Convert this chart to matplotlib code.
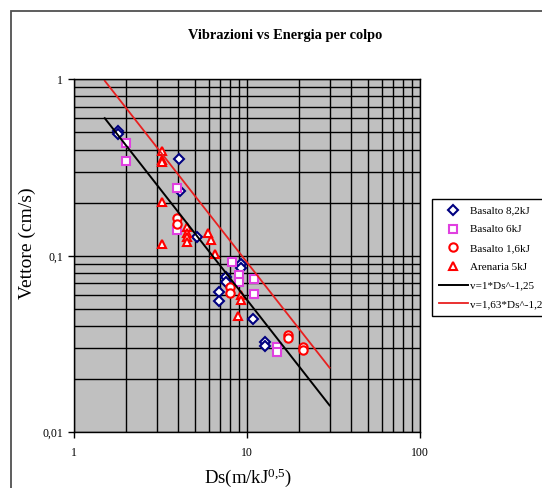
import matplotlib
matplotlib.use("Agg")
import matplotlib.pyplot as plt
from matplotlib.patches import Rectangle

plt.rcParams['font.family'] = ['Liberation Serif', 'DejaVu Serif']
plt.rcParams['mathtext.fontset'] = 'custom'
plt.rcParams['mathtext.rm'] = 'Liberation Serif'
plt.rcParams['mathtext.it'] = 'Liberation Serif:italic'

# ---- data ----
title = "Vibrazioni vs Energia per colpo"
xlabel = r"Ds(m/kJ$^{\mathrm{0{,}5}}$)"
ylabel = "Vettore (cm/s)"

basalto82_x = [1.80, 1.78, 4.05, 4.10, 5.10, 9.17, 9.17, 7.54, 7.54, 6.87, 6.87, 10.8, 12.7, 12.7]
basalto82_y = [0.51, 0.49, 0.352, 0.232, 0.127, 0.0895, 0.085, 0.0762, 0.0714, 0.0626, 0.0554, 0.0438, 0.0326, 0.031]

basalto6_x = [1.98, 1.98, 3.94, 3.94, 8.13, 8.97, 8.97, 10.9, 10.9, 14.9, 14.9]
basalto6_y = [0.434, 0.344, 0.241, 0.140, 0.0926, 0.0778, 0.0713, 0.0736, 0.0605, 0.0303, 0.0284]

basalto16_x = [3.94, 3.94, 7.95, 7.95, 17.3, 17.3, 21.1, 21.1]
basalto16_y = [0.163, 0.151, 0.0668, 0.0613, 0.0356, 0.0341, 0.0305, 0.0293]

arenaria_x = [3.20, 3.20, 3.20, 3.20, 3.20, 4.50, 4.50, 4.50, 4.50, 5.96, 6.15, 6.51, 9.17, 9.17, 8.89]
arenaria_y = [0.394, 0.349, 0.341, 0.203, 0.116, 0.145, 0.135, 0.128, 0.119, 0.134, 0.123, 0.102, 0.060, 0.0562, 0.0456]

line_x = [1.5, 30]
black_line_y = [0.602, 0.0142]
red_line_y = [0.981, 0.0232]

labels = ["Basalto 8,2kJ", "Basalto 6kJ", "Basalto 1,6kJ", "Arenaria 5kJ",
          "v=1*Ds^-1,25", "v=1,63*Ds^-1,25"]

xticks = [1, 10, 100]
xticklabels = ["1", "10", "100"]
yticks = [0.01, 0.1, 1]
yticklabels = ["0,01", "0,1", "1"]

# ---- figure ----
W, H = 542, 488
fig = plt.figure(figsize=(W / 100, H / 100), dpi=100)
fig.patch.set_facecolor('white')

# outer chart border
fig.patches.append(Rectangle((11 / W, -0.05), 1.2, 1 - 10.5 / H + 0.05,
                             transform=fig.transFigure, fill=False,
                             edgecolor='#505050', linewidth=1.3))

left, right = 74.3 / W, 420 / W
bottom, top = 1 - 432.3 / H, 1 - 79.3 / H
ax = fig.add_axes([left, bottom, right - left, top - bottom])
ax.set_facecolor('#C0C0C0')
ax.set_xscale('log')
ax.set_yscale('log')
ax.set_xlim(1, 100)
ax.set_ylim(0.01, 1)

ax.grid(True, which='both', color='black', linewidth=1.0)
ax.set_axisbelow(True)

ms_kw = dict(linestyle='none', markerfacecolor='white', markeredgewidth=1.5)
h1, = ax.plot(basalto82_x, basalto82_y, marker='D', markersize=4.8,
              markeredgecolor='#000080', label=labels[0], **ms_kw)
h2, = ax.plot(basalto6_x, basalto6_y, marker='s', markersize=6,
              markeredgecolor='#E040E0', label=labels[1], **ms_kw)
h3, = ax.plot(basalto16_x, basalto16_y, marker='o', markersize=6,
              markeredgecolor='#FF0000', label=labels[2], **ms_kw)
h4, = ax.plot(arenaria_x, arenaria_y, marker='^', markersize=6,
              markeredgecolor='#FF0000', label=labels[3], **ms_kw)
h5, = ax.plot(line_x, black_line_y, color='black', linewidth=1.4, label=labels[4])
h6, = ax.plot(line_x, red_line_y, color='#E82020', linewidth=1.3, label=labels[5])

ax.set_xticks(xticks)
ax.set_xticklabels(xticklabels)
ax.set_yticks(yticks)
ax.set_yticklabels(yticklabels)
ax.tick_params(axis='both', which='major', direction='out', length=4,
               width=1, labelsize=8.5)
ax.tick_params(axis='x', pad=6.5)
ax.tick_params(axis='y', pad=4)
ax.tick_params(axis='both', which='minor', length=0)
for s in ax.spines.values():
    s.set_color('black')
    s.set_linewidth(1)

ax.set_xlabel(xlabel, fontsize=13.5)
ax.xaxis.set_label_coords((248 - 74.3) / (420 - 74.3), -(466 - 432.3) / (432.3 - 79.3))
ax.set_ylabel(ylabel, fontsize=14)
ax.yaxis.set_label_coords(-(74.3 - 36) / (420 - 74.3), (432.3 - 243) / (432.3 - 79.3))

fig.text(285 / W, 1 - 35 / H, title, ha='center', va='center',
         fontsize=10.4, fontweight='bold')

leg = fig.legend(handles=[h1, h2, h3, h4, h5, h6], loc='upper left',
                 bbox_to_anchor=(432.3 / W, 1 - 199.3 / H),
                 bbox_transform=fig.transFigure, borderaxespad=0,
                 fontsize=8, frameon=True, fancybox=False,
                 edgecolor='black', facecolor='white', framealpha=1,
                 handlelength=2.6, handletextpad=0.2, labelspacing=0.8,
                 borderpad=0.6, numpoints=1)
leg.get_frame().set_linewidth(1.0)

fig.savefig("out.png", dpi=100)
